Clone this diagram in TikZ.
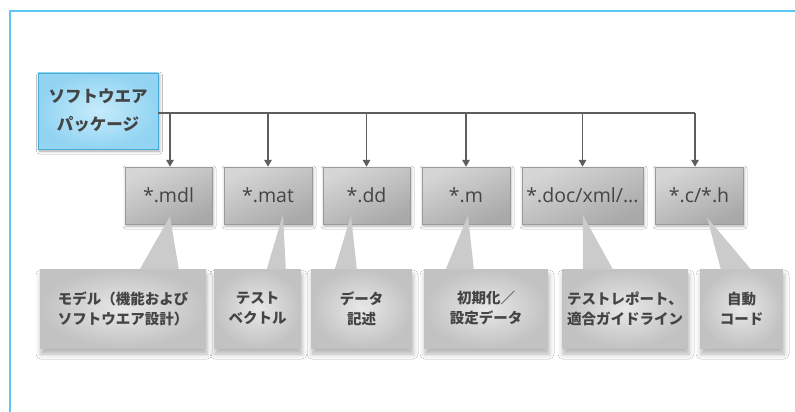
\documentclass[tikz,border=0pt]{standalone}
\usepackage{fontspec}
\setmainfont{Open Sans}
\newfontfamily\cjk{Noto Sans CJK JP}
\usetikzlibrary{shadows.blur,calc,arrows.meta}
\definecolor{frameblue}{HTML}{5CC8F2}
\definecolor{pkgedge}{HTML}{4AAAD6}
\definecolor{pkgin}{HTML}{C6EBFB}
\definecolor{pkgout}{HTML}{92D4F2}
\definecolor{txt}{HTML}{444444}
\definecolor{fileedge}{HTML}{9A9A9A}
\definecolor{filetop}{HTML}{D6D6D6}
\definecolor{filebot}{HTML}{A9A9A9}
\definecolor{callin}{HTML}{E8E8E8}
\definecolor{callout}{HTML}{C2C2C2}
\definecolor{callptr}{HTML}{CBCBCB}
\definecolor{conncol}{HTML}{5E5E5E}
\begin{document}
\begin{tikzpicture}[x=1pt,y=-1pt,
  frameline/.style={draw=frameblue,line width=2.2pt},
  pkgbox/.style={draw=pkgedge,line width=0.8pt,inner color=pkgin,outer color=pkgout,
    minimum width=120pt,minimum height=76pt,inner sep=0pt,align=center,
    font=\cjk\bfseries\fontsize{16.5}{28}\selectfont,text=txt,
    blur shadow={shadow xshift=1.5pt,shadow yshift=-2pt,shadow blur radius=3pt,shadow opacity=35}},
  filebox/.style={draw=fileedge,line width=0.5pt,top color=filetop,bottom color=filebot,
    shading angle=25,minimum height=57pt,inner sep=0pt,
    font=\fontsize{19.5}{22}\selectfont,text=txt,
    blur shadow={shadow xshift=1pt,shadow yshift=-2pt,shadow blur radius=3pt,shadow opacity=30}},
  callbox/.style={inner color=callin,outer color=callout,minimum height=79pt,inner sep=0pt,
    align=center,font=\cjk\bfseries\fontsize{14.5}{20}\selectfont,text=txt,
    blur shadow={shadow xshift=1pt,shadow yshift=-6pt,shadow blur radius=5pt,shadow opacity=30}},
  pointer/.style={fill=callptr},
  conn/.style={draw=conncol,line width=1.6pt},
  arr/.style={conn,-{Triangle[length=7pt,width=7.5pt]}}
]
\useasboundingbox (0,0) rectangle (795,412);
\fill[white] (0,0) rectangle (795,412);
% frame
\coordinate (frTR) at (795,11);
\coordinate (frTL) at (10,11);
\coordinate (frBL) at (10,412);
\draw[frameline] (frTR) -- (frTL) -- (frBL);

% package
\node[pkgbox] (pkg) at (98,111) {ソフトウエア\\パッケージ};

% file boxes
\node[filebox,minimum width=87pt] (f1) at (168.5,195.5) {*.mdl};
\node[filebox,minimum width=88pt] (f2) at (268,195.5) {*.mat};
\node[filebox,minimum width=87pt] (f3) at (366.5,195.5) {*.dd};
\node[filebox,minimum width=88pt] (f4) at (466,195.5) {*.m};
\node[filebox,minimum width=121pt] (f5) at (582.5,195.5) {*.doc/xml/...};
\node[filebox,minimum width=88pt] (f6) at (699,195.5) {*.c/*.h};

% bus and arrows
\coordinate (bus) at ($(pkg.east)+(0,2)$);
\coordinate (a1) at ($(f1.north)+(1.5,0)$);
\coordinate (a6) at ($(f6.north)+(-4,0)$);
\draw[conn] (bus) -- (bus -| a6);
\draw[arr] (bus -| a1) -- (a1);
\draw[arr] (bus -| f2.north) -- (f2.north);
\draw[arr] (bus -| f3.north) -- (f3.north);
\draw[arr] (bus -| f4.north) -- (f4.north);
\draw[arr] (bus -| f5.north) -- (f5.north);
\draw[arr] (bus -| a6) -- (a6);

% callouts
\node[callbox,minimum width=166pt] (c1) at (123,308.5) {モデル（機能および\\ソフトウエア設計）};
\node[callbox,minimum width=87pt] (c2) at (257.5,308.5) {テスト\\ベクトル};
\node[callbox,minimum width=101pt] (c3) at (361.5,308.5) {データ\\記述};
\node[callbox,minimum width=124pt] (c4) at (486,308.5) {初期化／\\設定データ};
\node[callbox,minimum width=126pt] (c5) at (625,308.5) {テストレポート、\\適合ガイドライン};
\node[callbox,minimum width=83pt] (c6) at (741.5,308.5) {自動\\コード};

% pointers
\fill[pointer] ($(f1.south)+(1.5,-8)$) -- ($(c1.north west)+(100,0.5)$) -- ($(c1.north west)+(139,0.5)$) -- cycle;
\fill[pointer] ($(f2.south)+(15,-10)$) -- ($(c2.north west)+(53,0.5)$) -- ($(c2.north west)+(72,0.5)$) -- cycle;
\fill[pointer] ($(f3.south)+(-15.5,-9)$) -- ($(c3.north west)+(24,0.5)$) -- ($(c3.north west)+(46,0.5)$) -- cycle;
\fill[pointer] ($(f4.south)+(2,-9)$) -- ($(c4.north west)+(22,0.5)$) -- ($(c4.north west)+(50,0.5)$) -- cycle;
\fill[pointer] ($(f5.south)+(0.5,-9)$) -- ($(c5.north west)+(21,0.5)$) -- ($(c5.north west)+(51,0.5)$) -- cycle;
\fill[pointer] ($(f6.south)+(8,-7)$) -- ($(c6.north west)+(21,0.5)$) -- ($(c6.north west)+(51,0.5)$) -- cycle;
\end{tikzpicture}
\end{document}
